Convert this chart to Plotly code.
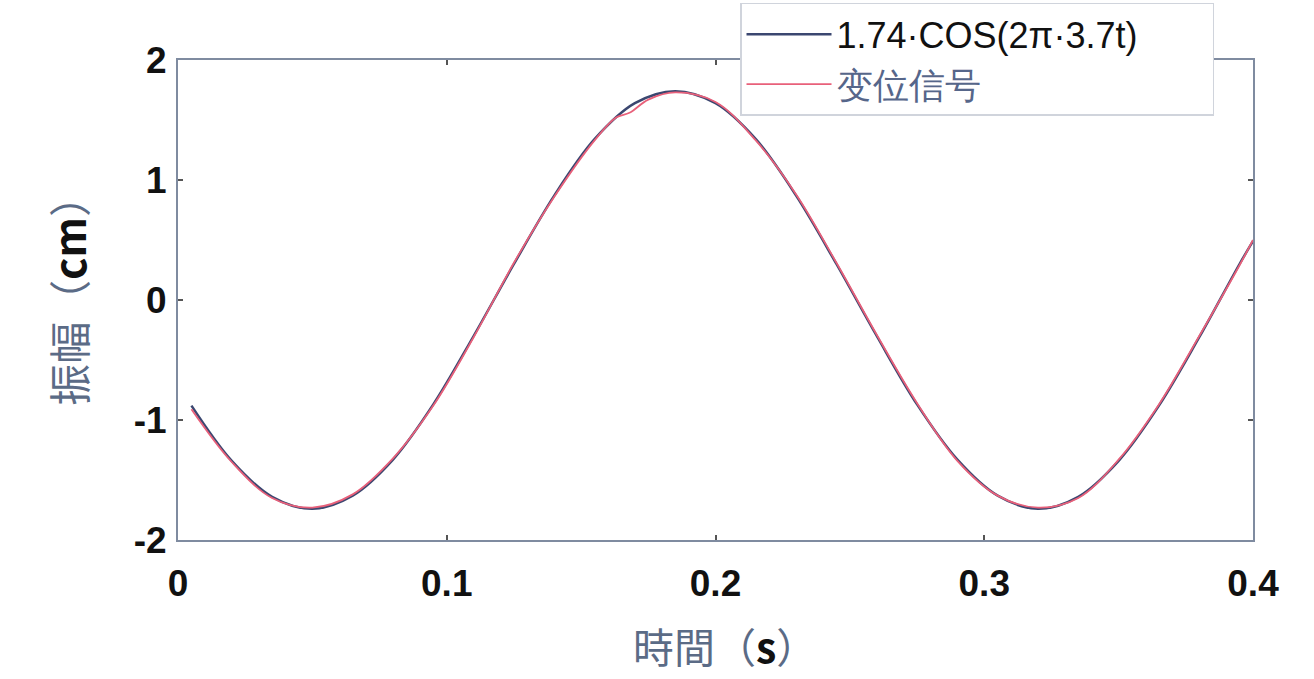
import plotly.graph_objects as go

# time samples (s)
t_ref = [0.005, 0.02, 0.035, 0.05, 0.065, 0.08, 0.095, 0.11, 0.125, 0.14, 0.155,
         0.17, 0.185, 0.2, 0.215, 0.23, 0.245, 0.26, 0.275, 0.29, 0.305, 0.32,
         0.335, 0.35, 0.365, 0.38, 0.395, 0.4]
# reference cosine 1.74·cos(2π·3.7t) (cm)
y_ref = [-0.88, -1.34, -1.64, -1.74, -1.63, -1.33, -0.87, -0.30, 0.30, 0.87, 1.34,
         1.64, 1.74, 1.64, 1.34, 0.87, 0.30, -0.30, -0.87, -1.33, -1.63, -1.74,
         -1.64, -1.34, -0.88, -0.31, 0.30, 0.49]

# measured displacement signal
t_sig = [0.005, 0.02, 0.035, 0.05, 0.065, 0.08, 0.095, 0.11, 0.125, 0.14, 0.155,
         0.163, 0.168, 0.175, 0.185, 0.2, 0.215, 0.23, 0.245, 0.26, 0.275, 0.29,
         0.305, 0.32, 0.335, 0.35, 0.365, 0.38, 0.395, 0.4]
y_sig = [-0.91, -1.35, -1.65, -1.73, -1.62, -1.32, -0.88, -0.31, 0.31, 0.86, 1.33,
         1.52, 1.56, 1.67, 1.73, 1.65, 1.33, 0.88, 0.31, -0.29, -0.86, -1.34,
         -1.63, -1.73, -1.65, -1.33, -0.87, -0.30, 0.29, 0.50]

legend_names = ["1.74·COS(2π·3.7t)", "变位信号"]
x_ticks = [0, 0.1, 0.2, 0.3, 0.4]
x_labels = ["0", "0.1", "0.2", "0.3", "0.4"]
y_ticks = [-2, -1, 0, 1, 2]
y_labels = ["-2", "-1", "0", "1", "2"]

fig = go.Figure()
fig.add_trace(go.Scatter(x=t_ref, y=y_ref, mode="lines",
                         name=legend_names[0] + "\u00a0" * 7,
                         line=dict(color="#3b4770", width=2.5, shape="spline")))
fig.add_trace(go.Scatter(x=t_sig, y=y_sig, mode="lines",
                         name='<span style="color:#56668a">' + legend_names[1] + '</span>',
                         line=dict(color="#e8607a", width=1.8, shape="spline")))

axis_common = dict(showgrid=False, zeroline=False, showline=True, mirror="ticks",
                   linecolor="#7f8ba0", linewidth=2, ticks="inside", ticklen=5,
                   tickcolor="#555", tickwidth=1.5,
                   tickfont=dict(family="Liberation Sans", size=37, color="#111",
                                 weight="bold"))

fig.update_layout(
    width=1314, height=679,
    margin=dict(l=178, r=61, t=60, b=139, autoexpand=False),
    paper_bgcolor="white", plot_bgcolor="white",
    xaxis=dict(range=[0, 0.4], tickvals=x_ticks, ticktext=x_labels,
               ticklabelstandoff=10, **axis_common),
    yaxis=dict(range=[-2, 2], tickvals=y_ticks, ticktext=y_labels,
               ticklabelstandoff=2, **axis_common),
    legend=dict(x=0.5228, y=1.119, xanchor="left", yanchor="top",
                bgcolor="white", bordercolor="#d0d4dc", borderwidth=1.5,
                font=dict(family="Liberation Sans", size=36, color="#111"),
                itemwidth=85),
    showlegend=True,
    annotations=[
        dict(text='<span style="color:#5b6b86">振幅（</span><b>cm</b><span style="color:#5b6b86">）</span>',
             xref="paper", yref="paper", x=-0.103, y=0.52, textangle=-90,
             showarrow=False, xanchor="center", yanchor="middle",
             font=dict(family="Noto Sans CJK SC", size=42, color="#111")),
        dict(text='<span style="color:#5b6b86">時間（</span><b>s</b><span style="color:#5b6b86">）</span>',
             xref="paper", yref="paper", x=0.509, y=-0.219,
             showarrow=False, xanchor="center", yanchor="middle",
             font=dict(family="Noto Sans CJK TC", size=41, color="#111")),
    ],
)

fig.write_html("out.html")
